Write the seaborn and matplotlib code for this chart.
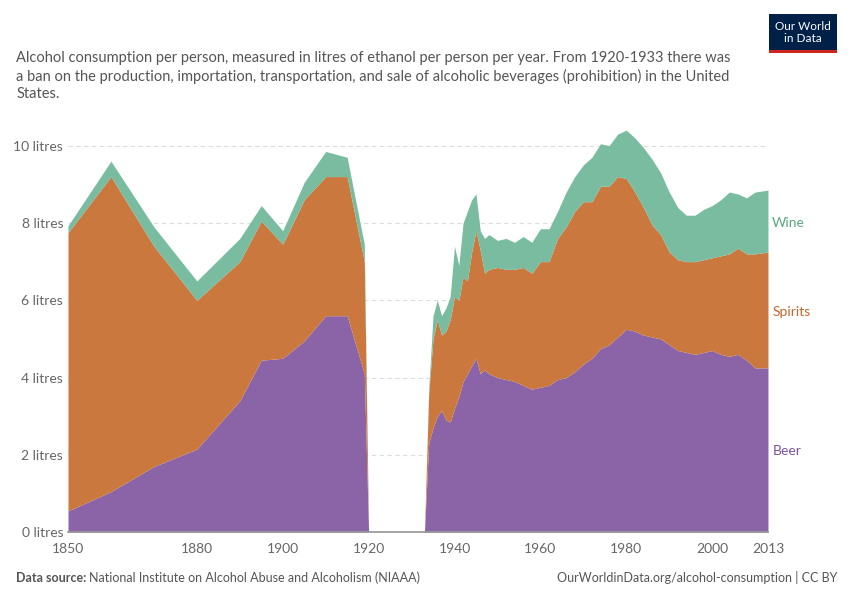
import numpy as np
import matplotlib.pyplot as plt
import seaborn as sns

# Data (litres of ethanol per person)
years = [1850, 1860, 1870, 1880, 1890, 1895, 1900, 1905, 1910, 1915, 1919, 1920, 1933,
         1934, 1935, 1936, 1937, 1938, 1939, 1940, 1941, 1942, 1943, 1944, 1945, 1946,
         1947, 1948, 1950, 1952, 1954, 1956, 1958, 1960, 1962, 1964, 1966, 1968, 1970,
         1972, 1974, 1976, 1978, 1980, 1982, 1984, 1986, 1988, 1990, 1992, 1994, 1996,
         1998, 2000, 2002, 2004, 2006, 2008, 2010, 2013]
beer = [0.55, 1.05, 1.7, 2.15, 3.4, 4.45, 4.5, 4.95, 5.6, 5.6, 4.1, 0, 0,
        2.3, 2.7, 3.0, 3.15, 2.9, 2.85, 3.2, 3.5, 3.9, 4.1, 4.3, 4.5, 4.1,
        4.2, 4.1, 4.0, 3.95, 3.9, 3.8, 3.7, 3.75, 3.8, 3.95, 4.0, 4.15, 4.35,
        4.5, 4.75, 4.85, 5.05, 5.25, 5.2, 5.1, 5.05, 5.0, 4.85, 4.7, 4.65, 4.6,
        4.65, 4.7, 4.6, 4.55, 4.6, 4.45, 4.25, 4.25]
spirits_top = [7.75, 9.2, 7.4, 6.0, 7.0, 8.05, 7.45, 8.6, 9.2, 9.2, 7.0, 0, 0,
               3.6, 5.0, 5.5, 5.1, 5.2, 5.5, 6.1, 6.0, 6.6, 6.5, 7.25, 7.8, 7.3,
               6.7, 6.8, 6.85, 6.8, 6.8, 6.85, 6.7, 7.0, 7.0, 7.6, 7.9, 8.3, 8.55,
               8.55, 8.95, 8.95, 9.2, 9.15, 8.8, 8.4, 7.95, 7.7, 7.25, 7.05, 7.0, 7.0,
               7.05, 7.1, 7.15, 7.2, 7.35, 7.2, 7.2, 7.25]
total = [7.93, 9.6, 7.9, 6.5, 7.6, 8.45, 7.8, 9.05, 9.85, 9.7, 7.45, 0, 0,
         3.7, 5.6, 6.0, 5.6, 5.8, 6.1, 7.4, 6.9, 8.0, 8.3, 8.6, 8.75, 7.8,
         7.6, 7.7, 7.55, 7.6, 7.5, 7.65, 7.5, 7.85, 7.85, 8.3, 8.8, 9.2, 9.5,
         9.7, 10.05, 10.0, 10.3, 10.4, 10.2, 9.95, 9.65, 9.3, 8.8, 8.4, 8.2, 8.2,
         8.35, 8.45, 8.6, 8.8, 8.75, 8.65, 8.8, 8.85]
series_names = ["Beer", "Spirits", "Wine"]
colors = ["#8a64a6", "#cb783f", "#79bca0"]

beer = np.array(beer)
spirits = np.array(spirits_top) - beer
wine = np.array(total) - np.array(spirits_top)

sns.set_theme(style="white")
plt.rcParams["font.family"] = ["Lato", "DejaVu Sans"]

fig = plt.figure(figsize=(8.5, 6), dpi=100)
ax = fig.add_axes([0.08, 0.113, 0.8235, 0.67])
ax.stackplot(years, beer, spirits, wine, colors=colors, linewidth=0, labels=series_names)

ax.set_xlim(1850, 2013)
ax.set_ylim(0, 10.4)
ax.set_yticks([0, 2, 4, 6, 8, 10])
ax.set_yticklabels([f"{v} litres" for v in [0, 2, 4, 6, 8, 10]])
ax.set_xticks([1850, 1880, 1900, 1920, 1940, 1960, 1980, 2000, 2013])
ax.tick_params(axis="both", colors="#666666", labelsize=10, length=0)
ax.tick_params(axis="x", length=4, color="#999999", pad=4)
ax.yaxis.grid(True, color="#dddddd", linestyle=(0, (4, 3)), linewidth=0.8)
ax.set_axisbelow(True)
for s in ["top", "right", "left"]:
    ax.spines[s].set_visible(False)
ax.spines["bottom"].set_color("#999999")

# series labels at the right
ax.text(2014, 8.0, "Wine", color="#5aa882", fontsize=10, va="center")
ax.text(2014, 5.7, "Spirits", color="#c0672c", fontsize=10, va="center")
ax.text(2014, 2.1, "Beer", color="#7a52a0", fontsize=10, va="center")

fig.text(0.019, 0.915,
         "Alcohol consumption per person, measured in litres of ethanol per person per year. From 1920-1933 there was\n"
         "a ban on the production, importation, transportation, and sale of alcoholic beverages (prohibition) in the United\n"
         "States.", fontsize=10.5, color="#555555", va="top", linespacing=1.3)

# logo
fig.patches.append(plt.Rectangle((0.905, 0.915), 0.08, 0.062, transform=fig.transFigure,
                                  facecolor="#002147", edgecolor="none"))
fig.patches.append(plt.Rectangle((0.905, 0.912), 0.08, 0.004, transform=fig.transFigure,
                                  facecolor="#ce261e", edgecolor="none"))
fig.text(0.945, 0.946, "Our World\nin Data", color="white", fontsize=8.5, ha="center",
         va="center", linespacing=1.1)

fig.text(0.019, 0.03, "Data source:", fontsize=9, color="#555555", fontweight="bold")
fig.text(0.105, 0.03, "National Institute on Alcohol Abuse and Alcoholism (NIAAA)", fontsize=9, color="#555555")
fig.text(0.985, 0.03, "OurWorldinData.org/alcohol-consumption | CC BY", fontsize=9, color="#555555", ha="right")

fig.savefig("out.png", dpi=100, facecolor="white")
